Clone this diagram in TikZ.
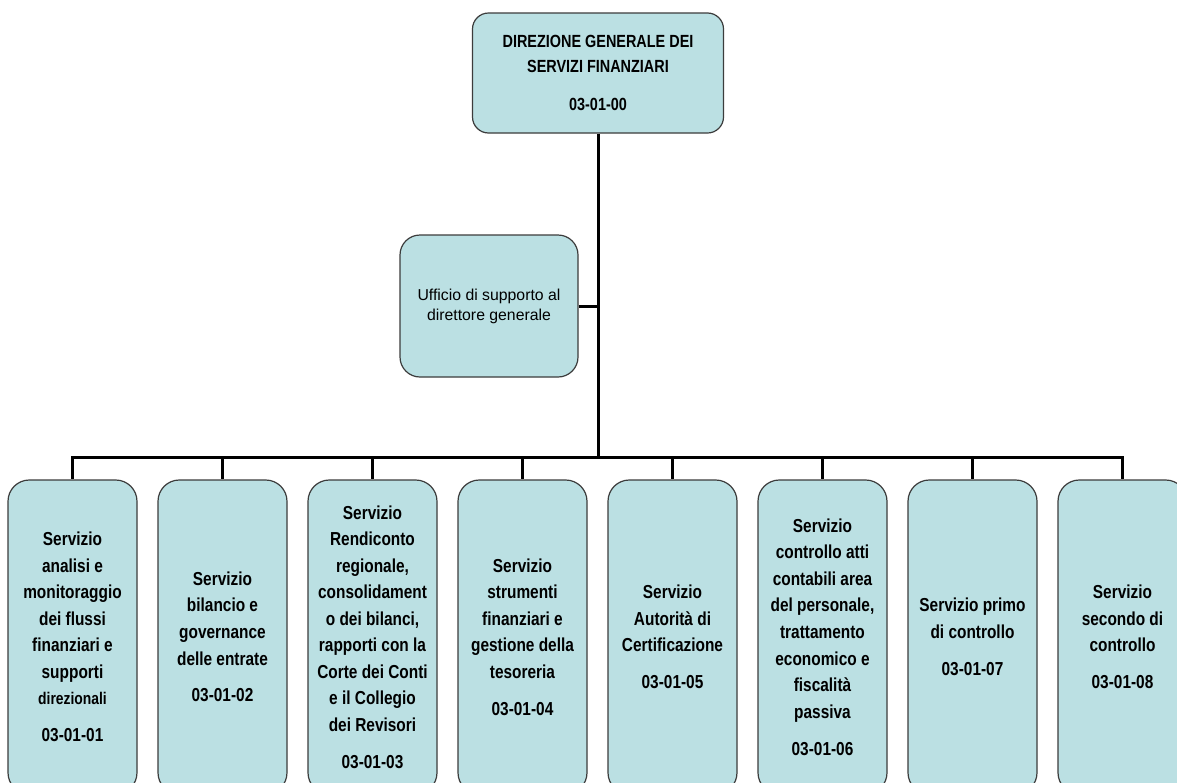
\documentclass[tikz,border=0pt]{standalone}
\usepackage{fontspec}
\setmainfont{Liberation Sans}
\newfontfamily\narrowfont{Liberation Sans}[FakeStretch=0.82]
\definecolor{boxfill}{HTML}{BBE0E3}
\definecolor{boxline}{HTML}{3C3C3C}
\tikzset{
  orgbox/.style={draw=boxline, line width=0.9pt, fill=boxfill, rectangle, inner sep=0pt, align=center},
  topbox/.style={orgbox, rounded corners=12pt, minimum width=188.25pt, minimum height=90pt,
    font=\narrowfont\bfseries\fontsize{13.2}{18.75}\selectfont},
  sidebox/.style={orgbox, rounded corners=15pt, minimum width=133.5pt, minimum height=106.5pt,
    font=\fontsize{11.85}{15}\selectfont},
  unitbox/.style={orgbox, rounded corners=16pt, minimum width=96.75pt, minimum height=235.5pt,
    font=\narrowfont\bfseries\fontsize{14.1}{19.9}\selectfont},
  link/.style={draw=black, line width=2.25pt}
}
\begin{document}
\begin{tikzpicture}[x=0.75pt, y=-0.75pt]
\useasboundingbox (0,0) rectangle (1177,782);
\clip (0,0) rectangle (1177,782);
\fill[white] (0,0) rectangle (1177,782);

\coordinate (busy) at (0,457);

\node[topbox] (top) at (598,73) {DIREZIONE GENERALE DEI\\SERVIZI FINANZIARI\\[9.75pt]03-01-00};
\node[sidebox] (uff) at (489,306) {Ufficio di supporto al\\direttore generale};

\node[unitbox] (b1) at (72.5,637) {Servizio\\analisi e\\monitoraggio\\dei flussi\\finanziari e\\supporti\\{\fontsize{12.7}{19.9}\selectfont direzionali}\\[7.8pt]03-01-01};
\node[unitbox] (b2) at (222.5,637) {Servizio\\bilancio e\\governance\\delle entrate\\[7.8pt]03-01-02};
\node[unitbox] (b3) at (372.5,637) {Servizio\\Rendiconto\\regionale,\\consolidament\\o dei bilanci,\\rapporti con la\\Corte dei Conti\\e il Collegio\\dei Revisori\\[7.8pt]03-01-03};
\node[unitbox] (b4) at (522.5,637) {Servizio\\strumenti\\finanziari e\\gestione della\\tesoreria\\[7.8pt]03-01-04};
\node[unitbox] (b5) at (672.5,637) {Servizio\\Autorità di\\Certificazione\\[7.8pt]03-01-05};
\node[unitbox] (b6) at (822.5,637) {Servizio\\controllo atti\\contabili area\\del personale,\\trattamento\\economico e\\fiscalità\\passiva\\[7.8pt]03-01-06};
\node[unitbox] (b7) at (972.5,637) {Servizio primo\\di controllo\\[7.8pt]03-01-07};
\node[unitbox] (b8) at (1122.5,637) {Servizio\\secondo di\\controllo\\[7.8pt]03-01-08};

\draw[link] (top.south) -- (top.south |- busy);
\draw[link] (uff.east) -- (uff.east -| top.south);
\draw[link, line cap=rect] (b1.north |- busy) -- (b8.north |- busy);
\foreach \b in {b1,b2,b3,b4,b5,b6,b7,b8} {
  \draw[link] (\b.north |- busy) -- (\b.north);
}
\end{tikzpicture}
\end{document}
